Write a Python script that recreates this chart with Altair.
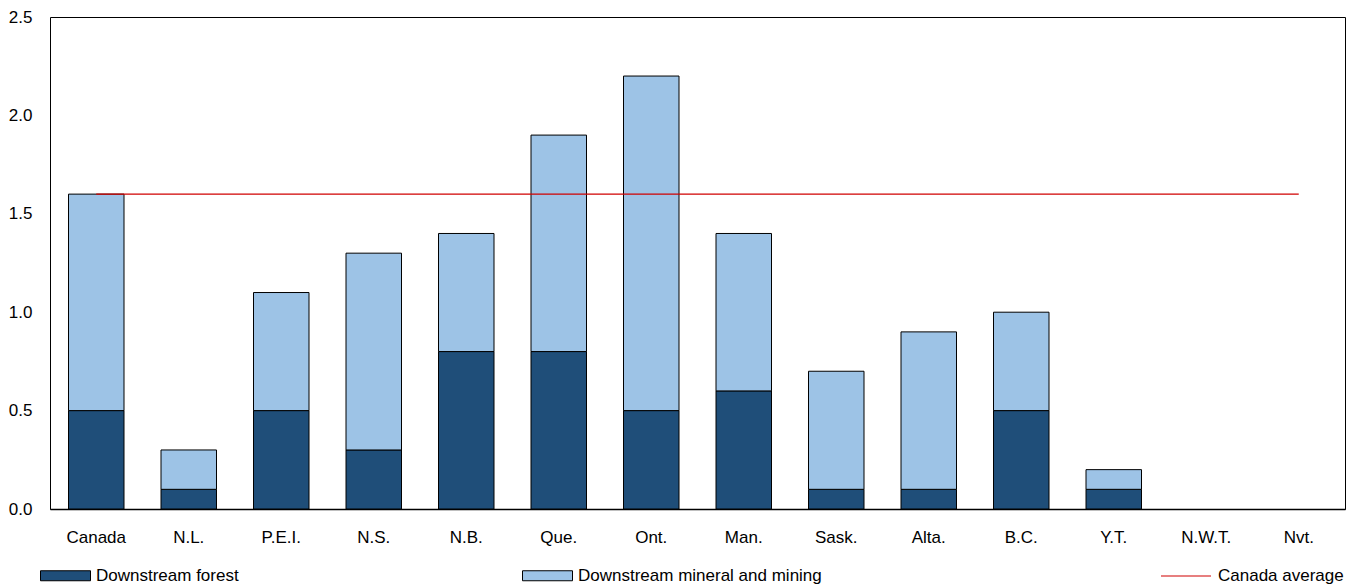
import altair as alt
import pandas as pd

regions = ["Canada", "N.L.", "P.E.I.", "N.S.", "N.B.", "Que.", "Ont.", "Man.",
           "Sask.", "Alta.", "B.C.", "Y.T.", "N.W.T.", "Nvt."]
forest = [0.5, 0.1, 0.5, 0.3, 0.8, 0.8, 0.5, 0.6, 0.1, 0.1, 0.5, 0.1, 0.0, 0.0]
mineral = [1.1, 0.2, 0.6, 1.0, 0.6, 1.1, 1.7, 0.8, 0.6, 0.8, 0.5, 0.1, 0.0, 0.0]
canada_avg = 1.6

series_names = ["Downstream forest", "Downstream mineral and mining"]
series_colors = ["#1F4E79", "#9DC3E6"]

rows = []
for r, f, m in zip(regions, forest, mineral):
    rows.append({"region": r, "series": series_names[0], "value": f, "ord": 0})
    rows.append({"region": r, "series": series_names[1], "value": m, "ord": 1})
df = pd.DataFrame(rows)
avg_df = pd.DataFrame({"region": regions, "avg": [canada_avg] * len(regions),
                       "label": ["Canada average"] * len(regions)})

FONT = "Liberation Sans, Arial, sans-serif"
rect_sym = "M-2.5,-0.5H2.5V0.5H-2.5Z"

x_enc = alt.X("region:N", sort=regions, title=None,
              scale=alt.Scale(domain=regions, paddingInner=0.4, paddingOuter=0.2),
              axis=alt.Axis(labelAngle=0, ticks=False, labelPadding=20,
                            domainColor="black", domainWidth=1.5))

bars = alt.Chart(df).transform_filter("datum.value > 0").mark_bar(
    stroke="black", strokeWidth=1).encode(
    x=x_enc,
    y=alt.Y("value:Q", stack="zero", title=None,
            scale=alt.Scale(domain=[0, 2.5], nice=False),
            axis=alt.Axis(values=[0, 0.5, 1.0, 1.5, 2.0, 2.5], format=".1f",
                          ticks=False, domain=False, grid=False, labelPadding=18,
                          labelBaseline="middle")),
    fill=alt.Fill("series:N", sort=series_names,
                  scale=alt.Scale(domain=series_names, range=series_colors),
                  legend=alt.Legend(title=None, orient="none", legendX=5, legendY=548,
                                    direction="horizontal", columns=2, columnPadding=281,
                                    symbolType=rect_sym, symbolSize=400,
                                    symbolStrokeColor="black", symbolStrokeWidth=1,
                                    labelFontSize=17, labelOffset=20, labelLimit=500)),
    order=alt.Order("ord:Q"),
)

line = alt.Chart(avg_df).mark_line(strokeWidth=1.2).encode(
    x=alt.X("region:N", sort=regions),
    y=alt.Y("avg:Q"),
    stroke=alt.Stroke("label:N", scale=alt.Scale(range=["#D00000"]),
                      legend=alt.Legend(title=None, orient="none", legendX=1110, legendY=533,
                                        symbolType="stroke", symbolSize=2500,
                                        symbolStrokeWidth=1.2,
                                        labelFontSize=17, labelOffset=6, labelLimit=500)),
)

chart = alt.layer(bars, line).resolve_legend(fill="independent", stroke="independent").properties(
    width=1295, height=492,
    autosize=alt.AutoSizeParams(type="none"),
    padding={"left": 42, "top": 9, "right": 1, "bottom": 78},
).configure_view(stroke="black", strokeWidth=1).configure_axis(
    labelFont=FONT, labelFontSize=17, labelColor="black"
).configure_legend(labelFont=FONT, labelColor="black")

chart.save("out.html", embed_options={"renderer": "svg", "actions": False})
